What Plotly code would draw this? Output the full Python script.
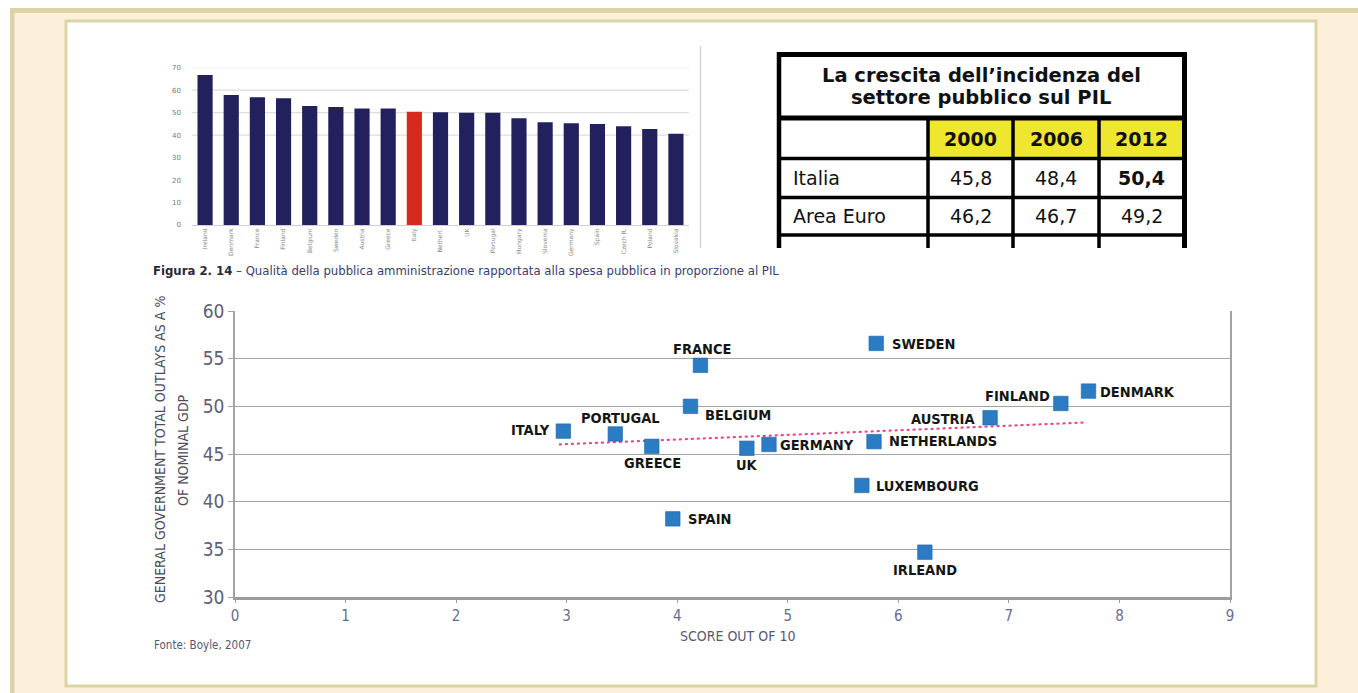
import plotly.graph_objects as go

W, H = 1358, 693

# ---- Bar chart: public spending as % of GDP ----
bar_countries = ["Ireland", "Denmark", "France", "Finland", "Belgium", "Sweden",
                 "Austria", "Greece", "Italy", "Netherl.", "UK", "Portugal",
                 "Hungary", "Slovenia", "Germany", "Spain", "Czech R.", "Poland",
                 "Slovakia"]
bar_values = [66.8, 57.9, 56.8, 56.4, 53.0, 52.5, 51.8, 51.8, 50.4, 50.2,
              50.0, 50.0, 47.5, 45.7, 45.3, 45.0, 43.9, 42.7, 40.6]
bar_highlight = "Italy"
bar_ticks = [0, 10, 20, 30, 40, 50, 60, 70]
bar_grid_levels = [40, 50, 60, 70]

# ---- Scatter: quality of public administration vs. outlays ----
countries = ["ITALY", "PORTUGAL", "GREECE", "FRANCE", "BELGIUM", "UK", "GERMANY",
             "SPAIN", "SWEDEN", "NETHERLANDS", "LUXEMBOURG", "IRLEAND", "AUSTRIA",
             "FINLAND", "DENMARK"]
score = [2.97, 3.44, 3.77, 4.21, 4.12, 4.63, 4.83, 3.96, 5.80, 5.78, 5.67,
         6.24, 6.83, 7.47, 7.72]
outlays = [47.4, 47.1, 45.8, 54.3, 50.0, 45.6, 46.0, 38.2, 56.6, 46.3, 41.7,
           34.7, 48.8, 50.3, 51.6]
trend_score = [2.93, 7.69]
trend_outlays = [46.0, 48.3]
x_ticks = [0, 1, 2, 3, 4, 5, 6, 7, 8, 9]
y_ticks = [30, 35, 40, 45, 50, 55, 60]

# ---- Table ----
table_title = ["La crescita dell’incidenza del", "settore pubblico sul PIL"]
table_years = ["2000", "2006", "2012"]
table_rows = ["Italia", "Area Euro"]
table_values = [["45,8", "48,4", "50,4"],
                ["46,2", "46,7", "49,2"]]

# label placement around each marker: (xanchor, xshift, yshift)
label_style = {
    "ITALY": ("right", -11, 1), "PORTUGAL": ("center", 5, 16),
    "GREECE": ("center", 1, -17), "FRANCE": ("center", 2, 16),
    "BELGIUM": ("left", 13, -9), "UK": ("center", 0, -17),
    "GERMANY": ("left", 9, -1), "SPAIN": ("left", 13, 0),
    "SWEDEN": ("left", 14, -1), "NETHERLANDS": ("left", 13, 1),
    "LUXEMBOURG": ("left", 12, -1), "IRLEAND": ("center", 0, -18),
    "AUSTRIA": ("right", -13, -1), "FINLAND": ("right", -9, 7),
    "DENMARK": ("left", 10, -1),
}

NARROW = "Liberation Sans Narrow, DejaVu Sans Condensed, Arial Narrow, sans-serif"
VERD = "Verdana, DejaVu Sans, sans-serif"


def fx(p):
    return p / W


def fy(p):
    return 1 - p / H


def note(x, y, text, font, xanchor="center", yanchor="middle", **kw):
    return dict(xref="paper", yref="paper", x=fx(x), y=fy(y), text=text,
                showarrow=False, xanchor=xanchor, yanchor=yanchor, font=font, **kw)


fig = go.Figure()

bar_colors = ["#d62a1f" if c == bar_highlight else "#22215e" for c in bar_countries]
fig.add_trace(go.Bar(x=bar_countries, y=bar_values, marker_color=bar_colors,
                     marker_line_width=0, xaxis="x", yaxis="y", hoverinfo="skip"))

fig.add_trace(go.Scatter(x=trend_score, y=trend_outlays, mode="lines",
                         line=dict(color="#e4437f", width=2, dash="3px,3px"),
                         xaxis="x2", yaxis="y2", hoverinfo="skip"))
fig.add_trace(go.Scatter(x=score, y=outlays, mode="markers",
                         marker=dict(symbol="square", size=14.5, color="#2b7cc3",
                                     line=dict(color="#1f64a6", width=0.6)),
                         xaxis="x2", yaxis="y2", hoverinfo="skip"))

shapes = []
# page frame
shapes.append(dict(type="rect", xref="paper", yref="paper", x0=fx(10), x1=1,
                   y0=0, y1=fy(8), fillcolor="#fcf0da", line_width=0, layer="below"))
shapes.append(dict(type="rect", xref="paper", yref="paper", x0=fx(10), x1=1,
                   y0=fy(13), y1=fy(8), fillcolor="#dbd4a6", line_width=0, layer="below"))
shapes.append(dict(type="rect", xref="paper", yref="paper", x0=fx(10), x1=fx(14.5),
                   y0=0, y1=fy(8), fillcolor="#dbd4a6", line_width=0, layer="below"))
shapes.append(dict(type="rect", xref="paper", yref="paper", x0=fx(66), x1=fx(1316),
                   y0=fy(686), y1=fy(21), fillcolor="#ffffff",
                   line=dict(color="#dbd4a6", width=3), layer="below"))

# bar chart gridlines and right edge
for g in bar_grid_levels:
    shapes.append(dict(type="line", xref="x domain", yref="y", x0=0, x1=1, y0=g, y1=g,
                       line=dict(color="#dedede", width=1.3), layer="below"))
shapes.append(dict(type="line", xref="paper", yref="paper", x0=fx(700.5), x1=fx(700.5),
                   y0=fy(248), y1=fy(46), line=dict(color="#d4d4d4", width=1.5),
                   layer="below"))

# table
t_left, t_right = 779, 1184.5
col_x = [t_left, 928, 1013, 1099, t_right]
row_y = [54.5, 118, 158.5, 197.5, 235]
t_bottom = 248
for i in range(3):
    shapes.append(dict(type="rect", xref="paper", yref="paper",
                       x0=fx(col_x[i + 1]), x1=fx(col_x[i + 2]),
                       y0=fy(row_y[2]), y1=fy(row_y[1]),
                       fillcolor="#efe630", line_width=0))
for j, yy in enumerate(row_y):
    wdt = 5 if j < 2 else 3.5
    shapes.append(dict(type="line", xref="paper", yref="paper", x0=fx(777), x1=fx(1187),
                       y0=fy(yy), y1=fy(yy), line=dict(color="#000", width=wdt)))
shapes.append(dict(type="line", xref="paper", yref="paper", x0=fx(t_left), x1=fx(t_left),
                   y0=fy(t_bottom), y1=fy(52), line=dict(color="#000", width=4.5)))
shapes.append(dict(type="line", xref="paper", yref="paper", x0=fx(t_right), x1=fx(t_right),
                   y0=fy(t_bottom), y1=fy(52), line=dict(color="#000", width=5)))
for cx in col_x[1:4]:
    shapes.append(dict(type="line", xref="paper", yref="paper", x0=fx(cx), x1=fx(cx),
                       y0=fy(t_bottom), y1=fy(row_y[1]), line=dict(color="#000", width=3.5)))

annotations = []
tfont = dict(family=VERD, size=19, color="#111")
# table text
for k, line in enumerate(table_title):
    annotations.append(note(981, 75 + 22 * k, "<b>%s</b>" % line,
                            dict(family=VERD, size=19.5, color="#111")))
for i, yr in enumerate(table_years):
    cx = (col_x[i + 1] + col_x[i + 2]) / 2
    annotations.append(note(cx, 139, "<b>%s</b>" % yr, tfont))
for r, name in enumerate(table_rows):
    cy = (row_y[r + 2] + row_y[r + 3]) / 2
    annotations.append(note(791, cy, name, tfont, xanchor="left"))
    for i, v in enumerate(table_values[r]):
        cx = (col_x[i + 1] + col_x[i + 2]) / 2
        txt = "<b>%s</b>" % v if (r == 0 and i == 2) else v
        annotations.append(note(cx, cy, txt, tfont))

# figure caption and source
annotations.append(note(
    151, 270,
    "<b>Figura 2. 14</b><span style='color:#3b3d6e'> – Qualità della pubblica "
    "amministrazione rapportata alla spesa pubblica in proporzione al PIL</span>",
    dict(family=NARROW, size=13, color="#2a2a36"), xanchor="left"))
annotations.append(note(152, 645, "Fonte: Boyle, 2007",
                        dict(family=NARROW, size=11.5, color="#55576e"), xanchor="left"))

# scatter axis titles
annotations.append(note(160, 450, "GENERAL GOVERNMENT TOTAL OUTLAYS AS A %",
                        dict(family=NARROW, size=14, color="#4b4b5c"), textangle=-90))
annotations.append(note(183, 450, "OF NOMINAL GDP",
                        dict(family=NARROW, size=14, color="#4b4b5c"), textangle=-90))
annotations.append(note(737, 636, "SCORE OUT OF 10",
                        dict(family=NARROW, size=14, color="#585a72")))

# point labels
for c, sx, oy in zip(countries, score, outlays):
    anchor, dx, dy = label_style[c]
    annotations.append(dict(xref="x2", yref="y2", x=sx, y=oy, xanchor=anchor,
                            yanchor="middle", xshift=dx, yshift=dy, showarrow=False,
                            text="<b>%s</b>" % c,
                            font=dict(family=NARROW, size=14.5, color="#151515")))

fig.update_layout(
    width=W, height=H, margin=dict(l=0, r=0, t=0, b=0, pad=0, autoexpand=False),
    paper_bgcolor="#ffffff", plot_bgcolor="rgba(0,0,0,0)",
    showlegend=False, bargap=0.42,
    shapes=shapes, annotations=annotations,
    xaxis=dict(domain=[fx(192), fx(689)], showgrid=False, showline=True,
               linecolor="#cfcfcf", linewidth=1, tickangle=-90, ticks="",
               tickfont=dict(family="DejaVu Sans", size=6, color="#888"),
               automargin=False, fixedrange=True),
    yaxis=dict(domain=[fy(225), fy(67.7)], range=[0, 70], tickvals=bar_ticks,
               showgrid=False, zeroline=False, ticks="", ticklabelstandoff=10,
               tickfont=dict(family="DejaVu Sans", size=7, color="#777"),
               automargin=False, fixedrange=True),
    xaxis2=dict(domain=[fx(235), fx(1230)], range=[0, 9], tickvals=x_ticks,
                anchor="y2", showgrid=False, zeroline=False, showline=True,
                linecolor="#9c9c9c", linewidth=2.5, ticks="outside", ticklen=3,
                tickcolor="#9c9c9c", tickfont=dict(family=NARROW, size=15, color="#6a6c8c"),
                automargin=False, fixedrange=True),
    yaxis2=dict(domain=[fy(597), fy(311)], range=[30, 60], tickvals=y_ticks,
                anchor="x2", showgrid=True, gridcolor="#a3a3a3", gridwidth=1.4,
                zeroline=False, showline=True, mirror=True, linecolor="#a3a3a3",
                linewidth=1.5, ticks="outside", ticklen=5, tickcolor="#a3a3a3",
                tickfont=dict(family=NARROW, size=19, color="#5f6075"),
                automargin=False, fixedrange=True),
)

fig.write_html("out.html")
